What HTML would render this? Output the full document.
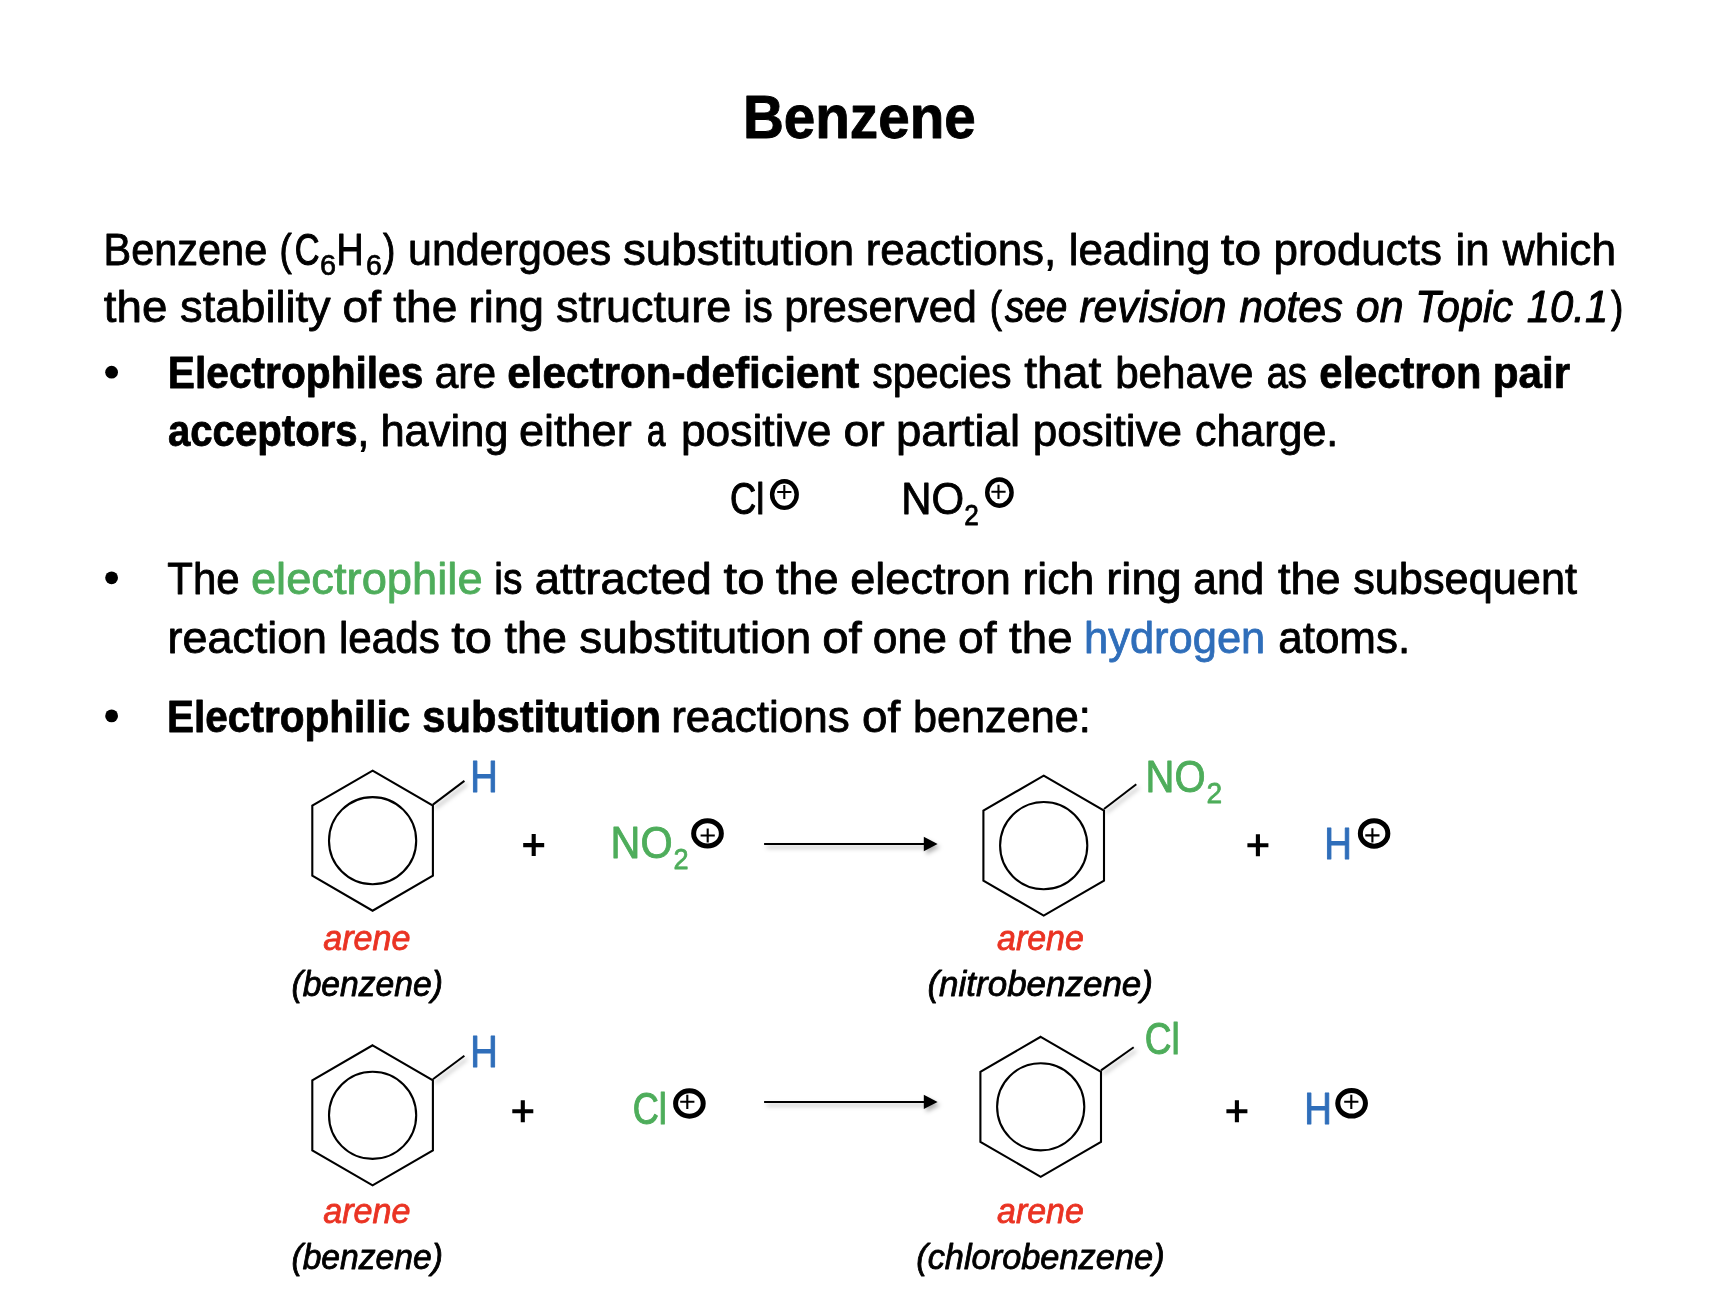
<!DOCTYPE html>
<html><head><meta charset="utf-8"><title>Benzene</title>
<style>
html,body{margin:0;padding:0;background:#fff}
body{width:1720px;height:1290px;overflow:hidden;font-family:"Liberation Sans",sans-serif}
svg{display:block;position:absolute;left:0;top:0;opacity:.999}
svg text{font-family:"Liberation Sans",sans-serif;white-space:pre}
</style></head><body>
<svg width="1720" height="1290" viewBox="0 0 1720 1290">
<defs><filter id="sh" x="-20%" y="-50%" width="140%" height="220%"><feDropShadow dx="2.5" dy="3.2" stdDeviation="2.1" flood-color="#000" flood-opacity="0.3"/></filter></defs>
<rect width="1720" height="1290" fill="#fff"/>
<g fill="none" stroke="#000" stroke-width="2.1" stroke-linejoin="miter"><polygon points="372.6,770.7 432.9,805.7 432.9,875.7 372.6,910.7 312.3,875.7 312.3,805.7"/><circle cx="372.6" cy="840.7" r="43.6"/><polygon points="1043.7,775.6 1104.0,810.6 1104.0,880.6 1043.7,915.6 983.4,880.6 983.4,810.6"/><circle cx="1043.7" cy="845.6" r="43.6"/><polygon points="372.6,1045.3 432.9,1080.3 432.9,1150.3 372.6,1185.3 312.3,1150.3 312.3,1080.3"/><circle cx="372.6" cy="1115.3" r="43.6"/><polygon points="1040.7,1036.8 1101.0,1071.8 1101.0,1141.8 1040.7,1176.8 980.4,1141.8 980.4,1071.8"/><circle cx="1040.7" cy="1106.8" r="43.6"/></g>
<g filter="url(#sh)" stroke="#000" stroke-width="2" fill="#000"><line x1="432.9" y1="804.6" x2="464.4" y2="780.9"/><line x1="1104.0" y1="809.0" x2="1136.3" y2="784.2"/><line x1="432.9" y1="1079.2" x2="464.4" y2="1055.8"/><line x1="1101.0" y1="1070.4" x2="1133.7" y2="1047.2"/><line x1="764.1" y1="844.0" x2="925" y2="844.0"/><polygon stroke="none" points="923.8,836.8 937.6,844.0 923.8,851.2"/><line x1="764.1" y1="1101.9" x2="925" y2="1101.9"/><polygon stroke="none" points="923.8,1094.7 937.6,1101.9 923.8,1109.1"/></g>
<g stroke="#000" stroke-width="4.1" fill="none"><path d="M523.2 845.1H544.2M533.7 834.1V856.1"/><path d="M1247.4 845.2H1268.4M1257.9 834.2V856.2"/><path d="M512.3 1111.2H533.3M522.8 1100.2V1122.2"/><path d="M1226.4 1111.2H1247.4M1236.9 1100.2V1122.2"/></g>
<g fill="none" stroke="#000"><ellipse cx="784.4" cy="494.6" rx="12.30" ry="13.30" stroke-width="4.4"/><path stroke-width="2.1" d="M777.2 492.0H791.4M784.3 484.9V499.1"/><ellipse cx="999.4" cy="492.6" rx="12.20" ry="13.10" stroke-width="4.4"/><path stroke-width="2.1" d="M991.4 491.8H1005.6M998.5 484.7V498.9"/><ellipse cx="707.5" cy="833.4" rx="13.85" ry="12.70" stroke-width="5"/><path stroke-width="2.1" d="M700.6 835.5H714.8M707.7 828.4V842.6"/><ellipse cx="1374.1" cy="833.4" rx="13.75" ry="12.75" stroke-width="5"/><path stroke-width="2.1" d="M1365.3 835.4H1379.5M1372.4 828.3V842.5"/><ellipse cx="689.4" cy="1103.5" rx="13.80" ry="12.70" stroke-width="5"/><path stroke-width="2.1" d="M680.2 1101.8H694.4M687.3 1094.7V1108.9"/><ellipse cx="1351.6" cy="1103.3" rx="13.85" ry="12.80" stroke-width="5"/><path stroke-width="2.1" d="M1344.2 1101.8H1358.4M1351.3 1094.7V1108.9"/></g>
<g fill="#000"><circle cx="111.6" cy="372.2" r="6.4"/><circle cx="111.6" cy="577.8" r="6.4"/><circle cx="111.6" cy="715.9" r="6.4"/></g>
<g fill="#000" stroke="#000" stroke-linejoin="round">
<text transform="translate(742.89 138.10) scale(0.9361 1)" font-size="60.5" stroke-width="0.92" font-weight="bold">Benzene</text>
<text transform="translate(103.57 264.60) scale(0.9532 1)" font-size="43.5" stroke-width="0.86">Benzene</text>
<text transform="translate(408.02 264.60) scale(0.9885 1)" font-size="43.5" stroke-width="0.82">undergoes</text>
<text transform="translate(622.91 264.60) scale(1.0518 1)" font-size="43.5" stroke-width="0.80">substitution</text>
<text transform="translate(865.66 264.60) scale(1.0113 1)" font-size="43.5" stroke-width="0.80">reactions,</text>
<text transform="translate(1068.66 264.60) scale(1.0108 1)" font-size="43.5" stroke-width="0.80">leading</text>
<text transform="translate(1220.65 264.60) scale(1.1155 1)" font-size="43.5" stroke-width="0.80">to</text>
<text transform="translate(1273.46 264.60) scale(1.0100 1)" font-size="43.5" stroke-width="0.80">products</text>
<text transform="translate(1455.57 264.60) scale(1.0068 1)" font-size="43.5" stroke-width="0.80">in</text>
<text transform="translate(1502.80 264.60) scale(1.0185 1)" font-size="43.5" stroke-width="0.80">which</text>
<text transform="translate(279.57 264.60) scale(0.8500 1)" font-size="43.5" stroke-width="1.01">(</text>
<text transform="translate(294.74 264.60) scale(0.7893 1)" font-size="43.5" stroke-width="1.15">C</text>
<text transform="translate(319.89 274.90) scale(0.9513 1)" font-size="30.3" stroke-width="0.72">6</text>
<text transform="translate(336.40 264.60) scale(0.8637 1)" font-size="43.5" stroke-width="1.00">H</text>
<text transform="translate(365.92 274.90) scale(0.9369 1)" font-size="30.3" stroke-width="0.74">6</text>
<text transform="translate(382.90 264.60) scale(0.8500 1)" font-size="43.5" stroke-width="1.01">)</text>
<text transform="translate(103.82 322.40) scale(1.0502 1)" font-size="43.5" stroke-width="0.80">the</text>
<text transform="translate(180.11 322.40) scale(1.0381 1)" font-size="43.5" stroke-width="0.80">stability</text>
<text transform="translate(342.58 322.40) scale(1.0621 1)" font-size="43.5" stroke-width="0.80">of</text>
<text transform="translate(393.23 322.40) scale(1.0603 1)" font-size="43.5" stroke-width="0.80">the</text>
<text transform="translate(468.59 322.40) scale(1.0399 1)" font-size="43.5" stroke-width="0.80">ring</text>
<text transform="translate(556.11 322.40) scale(1.0347 1)" font-size="43.5" stroke-width="0.80">structure</text>
<text transform="translate(743.58 322.40) scale(0.9316 1)" font-size="43.5" stroke-width="0.89">is</text>
<text transform="translate(784.19 322.40) scale(0.9969 1)" font-size="43.5" stroke-width="0.81">preserved</text>
<text transform="translate(989.67 322.40) scale(0.8500 1)" font-size="43.5" stroke-width="1.01">(</text>
<text transform="translate(1610.90 322.40) scale(0.8500 1)" font-size="43.5" stroke-width="1.01">)</text>
<text transform="translate(1004.88 322.40) scale(0.8883 1)" font-size="43.5" stroke-width="1.08" font-style="italic">see</text>
<text transform="translate(1079.39 322.40) scale(0.9813 1)" font-size="43.5" stroke-width="0.93" font-style="italic">revision</text>
<text transform="translate(1239.50 322.40) scale(0.9707 1)" font-size="43.5" stroke-width="0.95" font-style="italic">notes</text>
<text transform="translate(1355.81 322.40) scale(0.9873 1)" font-size="43.5" stroke-width="0.92" font-style="italic">on</text>
<text transform="translate(1415.32 322.40) scale(0.9545 1)" font-size="43.5" stroke-width="0.97" font-style="italic">Topic</text>
<text transform="translate(1526.81 322.40) scale(0.9606 1)" font-size="43.5" stroke-width="0.96" font-style="italic">10.1</text>
<text transform="translate(167.82 388.40) scale(0.9359 1)" font-size="43.5" stroke-width="0.78" font-weight="bold">Electrophiles</text>
<text transform="translate(434.68 388.40) scale(0.9755 1)" font-size="43.5" stroke-width="0.84">are</text>
<text transform="translate(507.14 388.40) scale(0.9720 1)" font-size="43.5" stroke-width="0.73" font-weight="bold">electron-deficient</text>
<text transform="translate(872.27 388.40) scale(0.9444 1)" font-size="43.5" stroke-width="0.88">species</text>
<text transform="translate(1024.23 388.40) scale(1.0638 1)" font-size="43.5" stroke-width="0.80">that</text>
<text transform="translate(1115.17 388.40) scale(0.9693 1)" font-size="43.5" stroke-width="0.84">behave</text>
<text transform="translate(1266.64 388.40) scale(0.8778 1)" font-size="43.5" stroke-width="0.98">as</text>
<text transform="translate(1319.36 388.40) scale(0.9579 1)" font-size="43.5" stroke-width="0.75" font-weight="bold">electron</text>
<text transform="translate(1492.72 388.40) scale(0.9705 1)" font-size="43.5" stroke-width="0.74" font-weight="bold">pair</text>
<text transform="translate(167.94 446.00) scale(0.9231 1)" font-size="43.5" stroke-width="0.79" font-weight="bold">acceptors</text>
<text transform="translate(357.23 446.00) scale(1.0000 1)" font-size="43.5" stroke-width="0.80">,</text>
<text transform="translate(380.38 446.00) scale(0.9998 1)" font-size="43.5" stroke-width="0.80">having</text>
<text transform="translate(519.01 446.00) scale(1.0357 1)" font-size="43.5" stroke-width="0.80">either</text>
<text transform="translate(646.93 446.00) scale(0.7606 1)" font-size="43.5" stroke-width="1.21">a</text>
<text transform="translate(680.94 446.00) scale(1.0201 1)" font-size="43.5" stroke-width="0.80">positive</text>
<text transform="translate(843.48 446.00) scale(1.0683 1)" font-size="43.5" stroke-width="0.80">or</text>
<text transform="translate(895.97 446.00) scale(1.0475 1)" font-size="43.5" stroke-width="0.80">partial</text>
<text transform="translate(1032.65 446.00) scale(1.0131 1)" font-size="43.5" stroke-width="0.80">positive</text>
<text transform="translate(1194.96 446.00) scale(0.9877 1)" font-size="43.5" stroke-width="0.82">charge.</text>
<text transform="translate(729.94 514.40) scale(0.8354 1)" font-size="43.5" stroke-width="1.05">Cl</text>
<text transform="translate(901.34 514.40) scale(0.9636 1)" font-size="43.5" stroke-width="0.85">NO</text>
<text transform="translate(964.23 524.70) scale(0.8644 1)" font-size="30.3" stroke-width="0.84">2</text>
<text transform="translate(167.35 594.40) scale(0.9651 1)" font-size="43.5" stroke-width="0.85">The</text>
<text transform="translate(250.90 594.40) scale(1.0416 1)" font-size="43.5" stroke-width="0.80" fill="#4EAD5B" stroke="#4EAD5B">electrophile</text>
<text transform="translate(494.29 594.40) scale(0.8944 1)" font-size="43.5" stroke-width="0.95">is</text>
<text transform="translate(534.80 594.40) scale(1.0453 1)" font-size="43.5" stroke-width="0.80">attracted</text>
<text transform="translate(723.55 594.40) scale(1.1268 1)" font-size="43.5" stroke-width="0.80">to</text>
<text transform="translate(775.72 594.40) scale(1.0384 1)" font-size="43.5" stroke-width="0.80">the</text>
<text transform="translate(850.21 594.40) scale(1.0378 1)" font-size="43.5" stroke-width="0.80">electron</text>
<text transform="translate(1022.53 594.40) scale(1.0238 1)" font-size="43.5" stroke-width="0.80">rich</text>
<text transform="translate(1106.29 594.40) scale(1.0414 1)" font-size="43.5" stroke-width="0.80">ring</text>
<text transform="translate(1193.28 594.40) scale(0.9783 1)" font-size="43.5" stroke-width="0.83">and</text>
<text transform="translate(1277.92 594.40) scale(1.0368 1)" font-size="43.5" stroke-width="0.80">the</text>
<text transform="translate(1353.13 594.40) scale(0.9955 1)" font-size="43.5" stroke-width="0.81">subsequent</text>
<text transform="translate(167.51 652.60) scale(1.0313 1)" font-size="43.5" stroke-width="0.80">reaction</text>
<text transform="translate(338.97 652.60) scale(0.9707 1)" font-size="43.5" stroke-width="0.84">leads</text>
<text transform="translate(451.25 652.60) scale(1.1268 1)" font-size="43.5" stroke-width="0.80">to</text>
<text transform="translate(504.52 652.60) scale(1.0317 1)" font-size="43.5" stroke-width="0.80">the</text>
<text transform="translate(579.31 652.60) scale(1.0541 1)" font-size="43.5" stroke-width="0.80">substitution</text>
<text transform="translate(822.15 652.60) scale(1.0928 1)" font-size="43.5" stroke-width="0.80">of</text>
<text transform="translate(872.82 652.60) scale(1.0219 1)" font-size="43.5" stroke-width="0.80">one</text>
<text transform="translate(958.08 652.60) scale(1.0621 1)" font-size="43.5" stroke-width="0.80">of</text>
<text transform="translate(1009.12 652.60) scale(1.0485 1)" font-size="43.5" stroke-width="0.80">the</text>
<text transform="translate(1083.98 652.60) scale(0.9998 1)" font-size="43.5" stroke-width="0.80" fill="#2F6EBA" stroke="#2F6EBA">hydrogen</text>
<text transform="translate(1278.23 652.60) scale(1.0114 1)" font-size="43.5" stroke-width="0.80">atoms.</text>
<text transform="translate(167.03 732.30) scale(0.9320 1)" font-size="43.5" stroke-width="0.78" font-weight="bold">Electrophilic</text>
<text transform="translate(422.25 732.30) scale(0.9600 1)" font-size="43.5" stroke-width="0.75" font-weight="bold">substitution</text>
<text transform="translate(671.15 732.30) scale(1.0125 1)" font-size="43.5" stroke-width="0.80">reactions</text>
<text transform="translate(861.99 732.30) scale(1.0537 1)" font-size="43.5" stroke-width="0.80">of</text>
<text transform="translate(913.00 732.30) scale(0.9933 1)" font-size="43.5" stroke-width="0.81">benzene:</text>
<text transform="translate(470.35 792.30) scale(0.8762 1)" font-size="43.5" stroke-width="0.98" fill="#2F6EBA" stroke="#2F6EBA">H</text>
<text transform="translate(610.58 858.40) scale(0.9502 1)" font-size="43.5" stroke-width="0.87" fill="#4EAD5B" stroke="#4EAD5B">NO</text>
<text transform="translate(673.39 868.70) scale(0.8934 1)" font-size="30.3" stroke-width="0.80" fill="#4EAD5B" stroke="#4EAD5B">2</text>
<text transform="translate(1145.60 792.30) scale(0.9183 1)" font-size="43.5" stroke-width="0.91" fill="#4EAD5B" stroke="#4EAD5B">NO</text>
<text transform="translate(1206.43 802.50) scale(0.9296 1)" font-size="30.3" stroke-width="0.75" fill="#4EAD5B" stroke="#4EAD5B">2</text>
<text transform="translate(1324.24 858.70) scale(0.8804 1)" font-size="43.5" stroke-width="0.97" fill="#2F6EBA" stroke="#2F6EBA">H</text>
<text transform="translate(470.35 1067.20) scale(0.8762 1)" font-size="43.5" stroke-width="0.98" fill="#2F6EBA" stroke="#2F6EBA">H</text>
<text transform="translate(632.75 1124.10) scale(0.8298 1)" font-size="43.5" stroke-width="1.06" fill="#4EAD5B" stroke="#4EAD5B">Cl</text>
<text transform="translate(1144.80 1054.40) scale(0.8523 1)" font-size="43.5" stroke-width="1.02" fill="#4EAD5B" stroke="#4EAD5B">Cl</text>
<text transform="translate(1304.24 1124.40) scale(0.8804 1)" font-size="43.5" stroke-width="0.97" fill="#2F6EBA" stroke="#2F6EBA">H</text>
<text transform="translate(323.17 950.40) scale(0.9833 1)" font-size="34.7" stroke-width="0.83" font-style="italic" fill="#EA3323" stroke="#EA3323">arene</text>
<text transform="translate(291.43 996.10) scale(0.9696 1)" font-size="34.7" stroke-width="0.85" font-style="italic">(benzene)</text>
<text transform="translate(997.08 950.40) scale(0.9776 1)" font-size="34.7" stroke-width="0.84" font-style="italic" fill="#EA3323" stroke="#EA3323">arene</text>
<text transform="translate(927.47 996.10) scale(1.0080 1)" font-size="34.7" stroke-width="0.81" font-style="italic">(nitrobenzene)</text>
<text transform="translate(323.17 1223.20) scale(0.9833 1)" font-size="34.7" stroke-width="0.83" font-style="italic" fill="#EA3323" stroke="#EA3323">arene</text>
<text transform="translate(291.43 1269.30) scale(0.9696 1)" font-size="34.7" stroke-width="0.85" font-style="italic">(benzene)</text>
<text transform="translate(997.08 1223.20) scale(0.9776 1)" font-size="34.7" stroke-width="0.84" font-style="italic" fill="#EA3323" stroke="#EA3323">arene</text>
<text transform="translate(916.19 1269.30) scale(0.9909 1)" font-size="34.7" stroke-width="0.82" font-style="italic">(chlorobenzene)</text>
</g>
</svg>
</body></html>
